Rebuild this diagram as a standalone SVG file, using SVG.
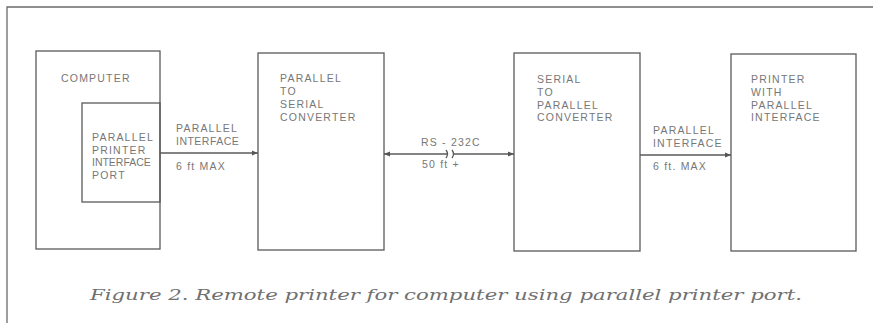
<svg xmlns="http://www.w3.org/2000/svg" width="873" height="323" viewBox="0 0 873 323">
<defs>
<style>
.frame{fill:none;stroke:#6a6a6a;stroke-width:1.3}
.box{fill:none;stroke:#5a5a5a;stroke-width:1.3}
.ln{fill:none;stroke:#5a5a5a;stroke-width:1.3}
.t{font-family:"Liberation Sans",Arial,sans-serif;font-size:10.5px;letter-spacing:1.2px;fill:#777777}
.cap{font-family:"DejaVu Serif","Liberation Serif",serif;font-style:italic;font-size:15px;fill:#707070}
</style>
<marker id="ah" viewBox="0 0 10 10" refX="10" refY="5" markerWidth="9" markerHeight="6" markerUnits="userSpaceOnUse" orient="auto-start-reverse">
<path d="M0,1 L10,5 L0,9 Z" fill="#555"/>
</marker>
</defs>
<rect width="873" height="323" fill="#ffffff"/>
<path class="frame" d="M7,323 V7 H873"/>

<g id="computer">
<rect class="box" x="36" y="51" width="124" height="198"/>
<text class="t" x="61" y="82">COMPUTER</text>
</g>
<g id="port">
<rect class="box" x="82" y="103" width="78" height="99"/>
<text class="t" x="92" y="141">PARALLEL</text>
<text class="t" x="92" y="153.5">PRINTER</text>
<text class="t" x="92" y="166" textLength="60">INTERFACE</text>
<text class="t" x="92" y="178.5">PORT</text>
</g>
<g id="p2s">
<rect class="box" x="258" y="53" width="126" height="197"/>
<text class="t" x="280" y="82">PARALLEL</text>
<text class="t" x="280" y="95">TO</text>
<text class="t" x="280" y="108">SERIAL</text>
<text class="t" x="280" y="121">CONVERTER</text>
</g>
<g id="s2p">
<rect class="box" x="514" y="53" width="126" height="198"/>
<text class="t" x="537" y="83">SERIAL</text>
<text class="t" x="537" y="96">TO</text>
<text class="t" x="537" y="108.5">PARALLEL</text>
<text class="t" x="537" y="121">CONVERTER</text>
</g>
<g id="printer">
<rect class="box" x="731" y="54" width="125" height="197"/>
<text class="t" x="751" y="83">PRINTER</text>
<text class="t" x="751" y="96">WITH</text>
<text class="t" x="751" y="108.5">PARALLEL</text>
<text class="t" x="751" y="121">INTERFACE</text>
</g>

<g id="connectors">
<line class="ln" x1="160" y1="153" x2="258" y2="153" marker-end="url(#ah)"/>
<text class="t" x="176" y="132">PARALLEL</text>
<text class="t" x="176" y="145" textLength="64">INTERFACE</text>
<text class="t" x="176" y="170">6 ft MAX</text>

<line class="ln" x1="384" y1="154" x2="447" y2="154" marker-start="url(#ah)"/>
<path class="ln" d="M446,150 Q449,154 446,158"/>
<path class="ln" d="M452,150 Q455,154 452,158"/>
<line class="ln" x1="454" y1="154" x2="514" y2="154" marker-end="url(#ah)"/>
<text class="t" x="421" y="146">RS - 232C</text>
<text class="t" x="422" y="168">50 ft +</text>

<line class="ln" x1="640" y1="155" x2="731" y2="155" marker-end="url(#ah)"/>
<text class="t" x="653" y="134">PARALLEL</text>
<text class="t" x="653" y="146.5">INTERFACE</text>
<text class="t" x="653" y="170">6 ft. MAX</text>
</g>

<text class="cap" x="90" y="300" textLength="712" lengthAdjust="spacingAndGlyphs">Figure 2. Remote printer for computer using parallel printer port.</text>
</svg>
